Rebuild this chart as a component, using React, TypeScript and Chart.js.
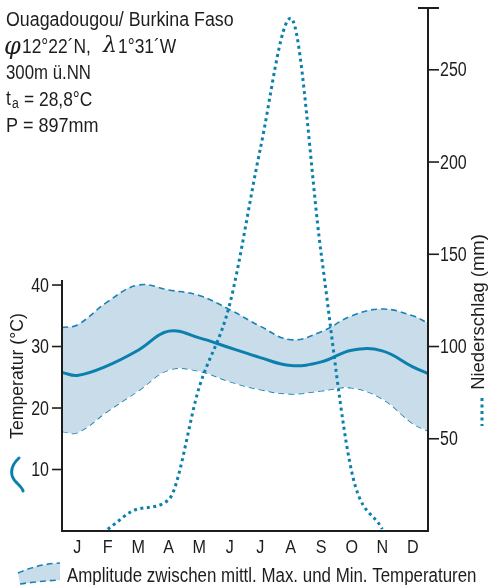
import React, { useEffect, useRef } from 'react';
import { Chart, registerables } from 'chart.js';

Chart.register(...registerables);

// ---------- data ----------
const months = ['J', 'F', 'M', 'A', 'M', 'J', 'J', 'A', 'S', 'O', 'N', 'D'];
const tempMean = [25.3, 26.9, 29.4, 32.5, 31.4, 29.8, 28.2, 26.9, 27.5, 29.4, 29.3, 26.7];
const tempMax = [33.5, 37.3, 40.0, 39.2, 38.3, 36.0, 33.3, 31.1, 32.4, 35.0, 36.1, 35.0];
const tempMin = [16.0, 19.5, 22.8, 26.2, 26.0, 24.3, 23.0, 22.3, 22.8, 23.3, 21.5, 17.5];
// values at the year's start / end edges of the plot
const tempMeanEdges = [25.8, 25.6];
const tempMaxEdges = [33.1, 33.8];
const tempMinEdges = [16.2, 16.3];
const precip = [0, 1, 12, 17, 78, 123, 207, 278, 150, 32, 1, 0];

const tempTicks = [10, 20, 30, 40];
const precipTicks = [50, 100, 150, 200, 250];
const precipMax = 283.5;
const tempPerPrecip = 0.3; // 30 °C <-> 100 mm

const placeName = 'Ouagadougou/ Burkina Faso';
const latSymbol = 'φ';
const latText = '12°22´N,';
const lonSymbol = 'λ';
const lonText = '1°31´W';
const altText = '300m ü.NN';
const meanTempText = '= 28,8°C';
const precipSumText = 'P = 897mm';
const tempAxisTitle = 'Temperatur (°C)';
const precipAxisTitle = 'Niederschlag (mm)';
const legendText = 'Amplitude zwischen mittl. Max. und Min. Temperaturen';

// ---------- style ----------
const FONT = '"Liberation Sans", Arial, sans-serif';
const SERIF = '"DejaVu Serif", serif';
const INK = '#1d1d1b';
const BLUE = '#0b80ad';
const DASH_BLUE = '#1a82b4';
const FILL = '#c8dcea';

const withEdges = (vals: number[], edges: number[]) => [
  { x: 0, y: edges[0] },
  ...vals.map((v, i) => ({ x: i + 0.5, y: v })),
  { x: 12, y: edges[1] },
];

// condensed text: horizontal scale sx
function txt(
  ctx: CanvasRenderingContext2D,
  s: string,
  x: number,
  y: number,
  size: number,
  sx: number,
  align: CanvasTextAlign = 'left',
  rot = 0,
  family = FONT,
  style = '',
) {
  ctx.save();
  ctx.font = `${style ? style + ' ' : ''}${size}px ${family}`;
  ctx.textAlign = align;
  ctx.textBaseline = 'middle';
  ctx.translate(x, y);
  if (rot) ctx.rotate(rot);
  ctx.scale(sx, 1);
  ctx.fillText(s, 0, 0);
  ctx.restore();
}

const decorPlugin = {
  id: 'decor',
  afterDatasetsDraw(chart: any) {
    const { ctx, chartArea, scales } = chart;
    const { left, right, top, bottom } = chartArea;
    const xs = scales.x;
    const yT = scales.yT;
    const yP = scales.yP;
    ctx.save();
    ctx.fillStyle = INK;
    ctx.strokeStyle = INK;

    // axes
    ctx.lineWidth = 2;
    ctx.lineCap = 'butt';
    const yTop = yT.getPixelForValue(tempTicks[tempTicks.length - 1]) - 5;
    ctx.beginPath();
    ctx.moveTo(left, yTop);
    ctx.lineTo(left, bottom);
    ctx.lineTo(right, bottom);
    ctx.lineTo(right, top);
    ctx.stroke();
    ctx.beginPath();
    ctx.moveTo(right - 10, top);
    ctx.lineTo(right + 11, top);
    ctx.stroke();

    // ticks
    ctx.lineWidth = 1.6;
    tempTicks.forEach((t) => {
      const py = yT.getPixelForValue(t);
      ctx.beginPath();
      ctx.moveTo(left - 10, py);
      ctx.lineTo(left, py);
      ctx.stroke();
      txt(ctx, String(t), left - 13, py + 1, 20, 0.8, 'right');
    });
    precipTicks.forEach((p) => {
      const py = yP.getPixelForValue(p);
      ctx.beginPath();
      ctx.moveTo(right, py);
      ctx.lineTo(right + 11, py);
      ctx.stroke();
      txt(ctx, String(p), right + 12, py + 1, 20, 0.8, 'left');
    });

    // month labels
    months.forEach((m, i) => {
      txt(ctx, m, xs.getPixelForValue(i + 0.5), bottom + 17, 19, 0.85, 'center');
    });

    // axis titles
    txt(ctx, tempAxisTitle, 18, 376, 19, 0.93, 'center', -Math.PI / 2);
    txt(ctx, precipAxisTitle, 479, 312, 19, 0.97, 'center', -Math.PI / 2);

    // header text
    txt(ctx, placeName, 6, 20, 20, 0.89);
    txt(ctx, latSymbol, 4, 48, 24, 1, 'left', 0, SERIF, 'italic');
    txt(ctx, latText, 22, 47, 20, 0.87);
    txt(ctx, lonSymbol, 103, 46, 22, 1, 'left', 0, SERIF, 'italic');
    txt(ctx, lonText, 118, 47, 20, 0.87);
    txt(ctx, altText, 6, 73, 20, 0.84);
    txt(ctx, 't', 6, 99, 20, 0.87);
    txt(ctx, 'a', 12, 104, 14, 0.87);
    txt(ctx, meanTempText, 24, 100, 20, 0.87);
    txt(ctx, precipSumText, 6, 126, 20, 0.9);

    // legend: mean temperature stroke
    ctx.strokeStyle = BLUE;
    ctx.lineWidth = 3;
    ctx.lineCap = 'round';
    ctx.beginPath();
    ctx.moveTo(19, 458);
    ctx.bezierCurveTo(9, 467, 10, 477, 17, 483);
    ctx.bezierCurveTo(21, 487, 23, 489, 23, 491);
    ctx.stroke();

    // legend: precipitation dots
    ctx.lineCap = 'butt';
    ctx.setLineDash([3, 3.5]);
    ctx.beginPath();
    ctx.moveTo(482, 398);
    ctx.lineTo(482, 426);
    ctx.stroke();

    // legend: amplitude band
    ctx.setLineDash([]);
    ctx.fillStyle = FILL;
    ctx.beginPath();
    ctx.moveTo(18, 573);
    ctx.quadraticCurveTo(38, 564, 60, 563);
    ctx.lineTo(60, 580);
    ctx.quadraticCurveTo(40, 581, 20, 584);
    ctx.closePath();
    ctx.fill();
    ctx.strokeStyle = DASH_BLUE;
    ctx.lineWidth = 1.6;
    ctx.setLineDash([6, 4]);
    ctx.beginPath();
    ctx.moveTo(18, 573);
    ctx.quadraticCurveTo(38, 564, 60, 563);
    ctx.stroke();
    ctx.beginPath();
    ctx.moveTo(20, 584);
    ctx.quadraticCurveTo(40, 581, 60, 580);
    ctx.stroke();
    ctx.setLineDash([]);
    ctx.fillStyle = INK;
    txt(ctx, legendText, 67, 576, 20, 0.845);

    ctx.restore();
  },
};

export default function App() {
  const canvasRef = useRef<HTMLCanvasElement | null>(null);

  useEffect(() => {
    const canvas = canvasRef.current;
    if (!canvas) return;
    const chart = new Chart(canvas, {
      type: 'line',
      data: {
        datasets: [
          {
            label: 'Max',
            data: withEdges(tempMax, tempMaxEdges),
            yAxisID: 'yT',
            borderColor: DASH_BLUE,
            borderWidth: 1.6,
            borderDash: [6, 4],
            backgroundColor: FILL,
            fill: '+1',
            tension: 0.4,
            pointRadius: 0,
            order: 3,
          },
          {
            label: 'Min',
            data: withEdges(tempMin, tempMinEdges),
            yAxisID: 'yT',
            borderColor: DASH_BLUE,
            borderWidth: 1.6,
            borderDash: [6, 4],
            fill: false,
            tension: 0.4,
            pointRadius: 0,
            order: 3,
          },
          {
            label: 'Mittel',
            data: withEdges(tempMean, tempMeanEdges),
            yAxisID: 'yT',
            borderColor: BLUE,
            borderWidth: 3,
            fill: false,
            tension: 0.4,
            pointRadius: 0,
            order: 2,
          },
          {
            label: 'Niederschlag',
            data: precip.map((v, i) => ({ x: i + 0.5, y: v === 0 ? null : v })),
            yAxisID: 'yP',
            borderColor: BLUE,
            borderWidth: 3,
            borderDash: [3, 3.5],
            fill: false,
            cubicInterpolationMode: 'monotone',
            spanGaps: false,
            pointRadius: 0,
            order: 1,
          },
        ],
      } as any,
      options: {
        animation: false,
        responsive: false,
        layout: { padding: { left: 62, right: 63, top: 8, bottom: 54 } },
        plugins: { legend: { display: false }, tooltip: { enabled: false } },
        scales: {
          x: { type: 'linear', min: 0, max: 12, display: false },
          yT: { type: 'linear', min: 0, max: precipMax * tempPerPrecip, display: false },
          yP: { type: 'linear', min: 0, max: precipMax, display: false },
        },
      },
      plugins: [decorPlugin],
    });
    return () => chart.destroy();
  }, []);

  return (
    <div style={{ position: 'absolute', left: 0, top: 0, width: 491, height: 585, background: '#fff' }}>
      <canvas ref={canvasRef} width={491} height={585} style={{ display: 'block' }} />
    </div>
  );
}
